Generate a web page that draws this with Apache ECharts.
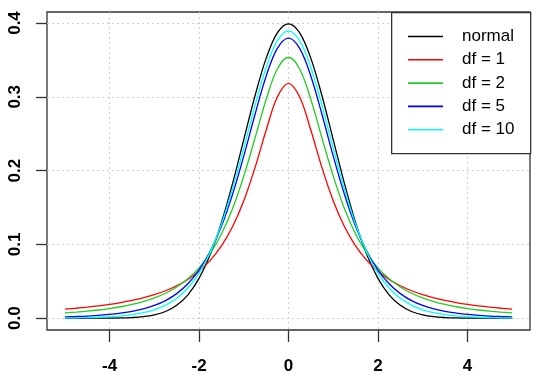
<!DOCTYPE html>
<html>
<head>
<meta charset="utf-8">
<script src="https://cdn.jsdelivr.net/npm/echarts@6/dist/echarts.min.js"></script>
<style>
html,body{margin:0;padding:0;background:#fff;}
#chart{width:539px;height:380px;}
</style>
</head>
<body>
<div id="chart"></div>
<script>
var xValues = [-5,-4.75,-4.5,-4.25,-4,-3.75,-3.5,-3.25,-3,-2.75,-2.5,-2.25,-2,-1.75,-1.5,-1.25,-1,-0.75,-0.5,-0.25,0,0.25,0.5,0.75,1,1.25,1.5,1.75,2,2.25,2.5,2.75,3,3.25,3.5,3.75,4,4.25,4.5,4.75,5];
var normal = [0.0000,0.0000,0.0000,0.0000,0.0001,0.0004,0.0009,0.0020,0.0044,0.0091,0.0175,0.0317,0.0540,0.0863,0.1295,0.1826,0.2420,0.3011,0.3521,0.3867,0.3989,0.3867,0.3521,0.3011,0.2420,0.1826,0.1295,0.0863,0.0540,0.0317,0.0175,0.0091,0.0044,0.0020,0.0009,0.0004,0.0001,0.0000,0.0000,0.0000,0.0000];
var df1 = [0.0122,0.0135,0.0150,0.0167,0.0187,0.0211,0.0240,0.0275,0.0318,0.0372,0.0439,0.0525,0.0637,0.0784,0.0979,0.1242,0.1592,0.2037,0.2546,0.2996,0.3183,0.2996,0.2546,0.2037,0.1592,0.1242,0.0979,0.0784,0.0637,0.0525,0.0439,0.0372,0.0318,0.0275,0.0240,0.0211,0.0187,0.0167,0.0150,0.0135,0.0122];
var df2 = [0.0071,0.0082,0.0095,0.0111,0.0131,0.0155,0.0186,0.0225,0.0274,0.0338,0.0422,0.0533,0.0680,0.0878,0.1141,0.1487,0.1925,0.2438,0.2963,0.3376,0.3536,0.3376,0.2963,0.2438,0.1925,0.1487,0.1141,0.0878,0.0680,0.0533,0.0422,0.0338,0.0274,0.0225,0.0186,0.0155,0.0131,0.0111,0.0095,0.0082,0.0071];
var df5 = [0.0018,0.0023,0.0029,0.0039,0.0051,0.0069,0.0092,0.0126,0.0173,0.0239,0.0333,0.0466,0.0651,0.0905,0.1245,0.1679,0.2197,0.2757,0.3279,0.3657,0.3796,0.3657,0.3279,0.2757,0.2197,0.1679,0.1245,0.0905,0.0651,0.0466,0.0333,0.0239,0.0173,0.0126,0.0092,0.0069,0.0051,0.0039,0.0029,0.0023,0.0018];
var df10 = [0.0004,0.0006,0.0009,0.0013,0.0020,0.0031,0.0048,0.0074,0.0114,0.0176,0.0269,0.0409,0.0611,0.0895,0.1274,0.1751,0.2304,0.2880,0.3397,0.3760,0.3891,0.3760,0.3397,0.2880,0.2304,0.1751,0.1274,0.0895,0.0611,0.0409,0.0269,0.0176,0.0114,0.0074,0.0048,0.0031,0.0020,0.0013,0.0009,0.0006,0.0004];
var seriesNames = ['normal','df = 1','df = 2','df = 5','df = 10'];
var seriesColors = ['#000000','#ff0000','#22cc22','#0000ff','#00ffff'];
var xTicks = [-4,-2,0,2,4];
var yTicks = [0,0.1,0.2,0.3,0.4];

function pairs(ys){ return xValues.map(function(x,i){ return [x, ys[i]]; }); }
var allData = [normal, df1, df2, df5, df10];

var chart = echarts.init(document.getElementById('chart'), null, {renderer:'canvas'});
var labelFont = {fontFamily:'Liberation Sans, Arial, sans-serif', fontSize:17, fontWeight:'bold', color:'#000'};
chart.setOption({
  animation:false,
  backgroundColor:'#fff',
  grid:{left:47, top:12, width:483, height:318, show:true, borderColor:'#333', borderWidth:1.3, backgroundColor:'transparent'},
  xAxis:{
    type:'value', min:-5.4, max:5.4,
    axisLine:{show:false, onZero:false},
    axisTick:{show:true, customValues:xTicks, length:12, inside:false, lineStyle:{color:'#333', width:1.3}},
    axisLabel:Object.assign({customValues:xTicks, margin:28}, labelFont),
    splitLine:{show:true, lineStyle:{color:'#cfcfcf', type:[2,3], width:1}}
  },
  yAxis:{
    type:'value', min:-0.016, max:0.4149,
    axisLine:{show:false, onZero:false},
    axisTick:{show:true, customValues:yTicks, length:11, inside:false, lineStyle:{color:'#333', width:1.3}},
    axisLabel:Object.assign({customValues:yTicks, margin:23, rotate:90, formatter:function(v){return v.toFixed(1);}}, labelFont),
    splitLine:{show:true, lineStyle:{color:'#cfcfcf', type:[2,3], width:1}}
  },
  legend:{
    left:408, top:28, orient:'vertical', itemWidth:35, itemHeight:1.6, itemGap:6.3, icon:'rect',
    padding:0,
    textStyle:{fontFamily:'Liberation Sans, Arial, sans-serif', fontSize:17, color:'#000', lineHeight:17, padding:[0,0,0,14]},
    data:seriesNames, z:10
  },
  graphic:[{type:'rect', left:391, top:12, shape:{width:139, height:141}, style:{fill:'#fff', stroke:'#333', lineWidth:1.3}, z:5}],
  series: allData.map(function(d,i){
    return {name:seriesNames[i], type:'line', data:pairs(d), showSymbol:false, symbol:'none', smooth:0.35,
      lineStyle:{color:seriesColors[i], width:1.3}, itemStyle:{color:seriesColors[i]}, z:2+i};
  })
});
</script>
</body>
</html>
